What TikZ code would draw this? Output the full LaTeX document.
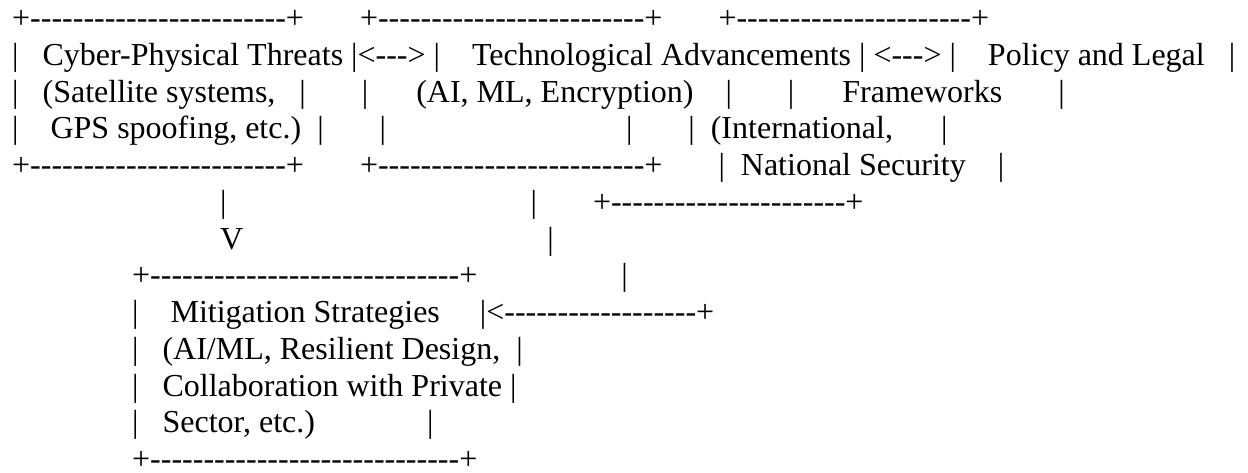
\documentclass[tikz,border=0pt]{standalone}
\usepackage{fontspec}
\newfontfamily\asciifont{Liberation Serif}[Ligatures=TeXOff]
\newcommand\asciigap[1]{\hspace*{#1\fontdimen2\font}}
\frenchspacing

\begin{document}
\begin{tikzpicture}[x=1pt,y=-1pt]

      \useasboundingbox (0,0) rectangle (1248,472);

      \begin{scope}[every node/.style={anchor=base west,inner sep=0pt,
          font=\asciifont\fontsize{32pt}{36.75pt}\selectfont}]
        \node (r0)  at (12,28.50)  {+------------------------+\asciigap{7}+-------------------------+\asciigap{7}+----------------------+};
        \node (r1)  at (12,65.25)  {|\asciigap{3}Cyber-Physical Threats\asciigap{1}|<--->\asciigap{1}|\asciigap{4}Technological Advancements\asciigap{1}|\asciigap{1}<--->\asciigap{1}|\asciigap{4}Policy and Legal\asciigap{3}|};
        \node (r2)  at (12,102.00) {|\asciigap{3}(Satellite systems,\asciigap{3}|\asciigap{7}|\asciigap{6}(AI, ML, Encryption)\asciigap{4}|\asciigap{7}|\asciigap{6}Frameworks\asciigap{7}|};
        \node (r3)  at (12,138.75) {|\asciigap{4}GPS spoofing, etc.)\asciigap{2}|\asciigap{7}|\asciigap{30}|\asciigap{7}|\asciigap{2}(International,\asciigap{6}|};
        \node (r4)  at (12,175.50) {+------------------------+\asciigap{7}+-------------------------+\asciigap{7}|\asciigap{2}National Security\asciigap{4}|};
        \node (r5)  at (12,212.25) {\asciigap{26}|\asciigap{38}|\asciigap{7}+----------------------+};
        \node (r6)  at (12,249.00) {\asciigap{26}V\asciigap{38}|};
        \node (r7)  at (12,285.75) {\asciigap{15}+-----------------------------+\asciigap{18}|};
        \node (r8)  at (12,322.50) {\asciigap{15}|\asciigap{4}Mitigation Strategies\asciigap{5}|<------------------+};
        \node (r9)  at (12,359.25) {\asciigap{15}|\asciigap{3}(AI/ML, Resilient Design,\asciigap{2}|};
        \node (r10) at (12,396.00) {\asciigap{15}|\asciigap{3}Collaboration with Private\asciigap{1}|};
        \node (r11) at (12,432.75) {\asciigap{15}|\asciigap{3}Sector, etc.)\asciigap{14}|};
        \node (r12) at (12,469.50) {\asciigap{15}+-----------------------------+};
      \end{scope}

    \end{tikzpicture}
\end{document}
